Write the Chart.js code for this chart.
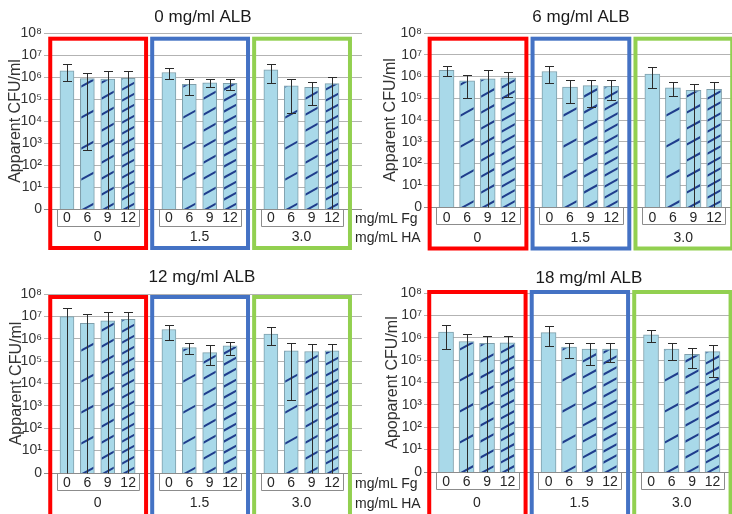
<!DOCTYPE html>
<html>
<head>
<meta charset="utf-8">
<script src="https://cdn.jsdelivr.net/npm/chart.js@4.4.1/dist/chart.umd.min.js"></script>
<style>
    body { margin: 0; background: #fff; }
    #wrap { position: relative; width: 732px; height: 514px; overflow: hidden; font-family: "Liberation Sans", Arial, sans-serif; }
    .panel { position: absolute; width: 366px; height: 257px; }
    .side { position: absolute; font-size: 14px; color: #262626; transform: translateY(-50%); white-space: nowrap; }
</style>
</head>
<body>
<div id="wrap">
    <div class="panel" style="left:0;top:0"><canvas id="c0" width="366" height="257"></canvas></div>
    <div class="panel" style="left:366px;top:0"><canvas id="c1" width="366" height="257"></canvas></div>
    <div class="panel" style="left:0;top:257px"><canvas id="c2" width="366" height="257"></canvas></div>
    <div class="panel" style="left:366px;top:257px"><canvas id="c3" width="366" height="257"></canvas></div>
    <div class="side" style="left:355px;top:218px">mg/mL Fg</div>
    <div class="side" style="left:355px;top:237px">mg/mL HA</div>
    <div class="side" style="left:355px;top:483px">mg/mL Fg</div>
    <div class="side" style="left:355px;top:503px">mg/mL HA</div>
</div>
<script>
// category labels
const fgLabels = ["0", "6", "9", "12"];          // mg/mL Fg
const haLabels = ["0", "1.5", "3.0"];            // mg/mL HA
const panelTitles = ["0 mg/ml ALB", "6 mg/ml ALB", "12 mg/ml ALB", "18 mg/ml ALB"];
const yTitles = ["Apparent CFU/ml", "Apparent CFU/ml", "Apparent CFU/ml", "Apoparent CFU/ml"];
const yTicks = [1, 1e1, 1e2, 1e3, 1e4, 1e5, 1e6, 1e7, 1e8];

// mean CFU/ml, upper and lower error bar ends (1 = bar runs to the axis)
const alb0Mean = [1.9e6, 8.5e5, 8.0e5, 8.7e5, 1.6e6, 4.7e5, 5.5e5, 5.2e5, 2.1e6, 4.0e5, 3.4e5, 5.0e5];
const alb0High = [3.8e6, 1.6e6, 1.9e6, 1.9e6, 2.5e6, 8.1e5, 8.1e5, 7.9e5, 3.9e6, 7.9e5, 6.2e5, 1.0e6];
const alb0Low  = [6.8e5, 5e2, 1, 1, 8.4e5, 1.6e5, 3.6e5, 2.6e5, 5.2e5, 2.4e4, 5.3e4, 1];

const alb6Mean = [1.9e6, 6.4e5, 7.9e5, 8.8e5, 1.7e6, 3.3e5, 3.8e5, 3.5e5, 1.3e6, 3.0e5, 2.3e5, 2.6e5];
const alb6High = [2.9e6, 1.2e6, 1.9e6, 1.6e6, 3.2e6, 7.1e5, 7.1e5, 7.1e5, 2.6e6, 5.4e5, 4.7e5, 5.8e5];
const alb6Low  = [1.1e6, 1.0e5, 1, 1.2e5, 5.0e5, 6.0e4, 4.0e4, 8.0e4, 3.0e5, 1.3e5, 1, 1];

const alb12Mean = [9.7e6, 4.9e6, 6.3e6, 7.4e6, 2.6e6, 4.0e5, 2.4e5, 4.8e5, 1.6e6, 2.9e5, 2.7e5, 2.9e5];
const alb12High = [2.3e7, 1.3e7, 1.5e7, 1.6e7, 4.1e6, 6.3e5, 5.0e5, 7.4e5, 3.2e6, 6.3e5, 5.7e5, 5.7e5];
const alb12Low  = [1, 1, 1, 1, 8.9e5, 2.0e5, 6.8e4, 1.9e5, 5.3e5, 1.9e3, 1, 1];

const alb18Mean = [1.8e6, 6.8e5, 5.7e5, 6.0e5, 1.7e6, 3.8e5, 3.1e5, 3.1e5, 1.35e6, 3.1e5, 1.8e5, 2.4e5];
const alb18High = [3.8e6, 1.5e6, 1.2e6, 1.2e6, 3.2e6, 5.7e5, 5.7e5, 5.7e5, 2.2e6, 5.7e5, 3.4e5, 4.8e5];
const alb18Low  = [3.2e5, 1, 1, 1, 4.1e5, 1.2e5, 6.0e4, 8.5e4, 6.3e5, 1.0e5, 4.3e4, 1.7e4];

const FONT = '"Liberation Sans", Arial, sans-serif';
const boxColors = ["#ff0000", "#4472c4", "#92d050"];
const hatchGap = [0, 31, 16, 11];   // hatch spacing per Fg level, px
const SUP = { 0: "\u2070", 1: "\u00b9", 2: "\u00b2", 3: "\u00b3", 4: "\u2074", 5: "\u2075", 6: "\u2076", 7: "\u2077", 8: "\u2078" };

// layout for each panel (pixels inside its own canvas)
const panels = [
    { id: "c0", mean: alb0Mean, high: alb0High, low: alb0Low,
      padTop: 33, padBottom: 48, padRight: 4, axisW: 48, xMin: -0.93, xMax: 14.47, barW: 14,
      titleX: 203, titleY: 17, fgY: 218, haY: 237, boxTop: 38.7, boxBot: 248, yTitlePad: 6.4 },
    { id: "c1", mean: alb6Mean, high: alb6High, low: alb6Low,
      padTop: 33, padBottom: 50, padRight: 0, axisW: 62, xMin: -0.9, xMax: 13.87, barW: 15,
      titleX: 215, titleY: 17, fgY: 218, haY: 238, boxTop: 38.7, boxBot: 248.5, yTitlePad: 15.4 },
    { id: "c2", mean: alb12Mean, high: alb12High, low: alb12Low,
      padTop: 37, padBottom: 41, padRight: 4, axisW: 48, xMin: -0.93, xMax: 14.47, barW: 14,
      titleX: 202, titleY: 20, fgY: 226, haY: 246, boxTop: 40, boxBot: 262, yTitlePad: 7.4 },
    { id: "c3", mean: alb18Mean, high: alb18High, low: alb18Low,
      padTop: 36, padBottom: 42, padRight: 0, axisW: 62, xMin: -0.88, xMax: 13.95, barW: 15,
      titleX: 223, titleY: 21, fgY: 225, haY: 246, boxTop: 35, boxBot: 262, yTitlePad: 17.4 }
];

// slot on the x axis: groups of four bars with one empty slot between groups
function slot(k) {
    return Math.floor(k / fgLabels.length) * (fgLabels.length + 1) + (k % fgLabels.length);
}

function tickLabel(v) {
    const e = Math.round(Math.log10(v));
    return e === 0 ? "0" : "10" + SUP[e];
}

function overlay(p, title) {
    return {
        id: "overlay",
        afterDatasetsDraw(chart) {
            const ctx = chart.ctx;
            const xs = chart.scales.x, ys = chart.scales.y, area = chart.chartArea;
            const bars = chart.getDatasetMeta(0).data;

            // hatching on the Fg bars
            bars.forEach((bar, k) => {
                const gap = hatchGap[k % fgLabels.length];
                if (!gap) return;
                const left = bar.x - bar.width / 2, w = bar.width;
                ctx.save();
                ctx.beginPath();
                ctx.rect(left + 1, bar.y + 1, w - 2, bar.base - bar.y - 1);
                ctx.clip();
                ctx.strokeStyle = "#1f3d8c";
                ctx.lineWidth = 2;
                for (let yy = bar.base + 2; yy > bar.y - w; yy -= gap) {
                    ctx.beginPath();
                    ctx.moveTo(left, yy);
                    ctx.lineTo(left + w, yy - w * 0.55);
                    ctx.stroke();
                }
                ctx.restore();
            });

            // error bars
            ctx.save();
            ctx.strokeStyle = "#2b2b2b";
            ctx.lineWidth = 1;
            bars.forEach((bar, k) => {
                const x = Math.round(bar.x) + 0.5;
                const hi = Math.round(ys.getPixelForValue(p.high[k])) + 0.5;
                const lo = Math.round(ys.getPixelForValue(Math.max(p.low[k], 1))) + 0.5;
                ctx.beginPath();
                ctx.moveTo(x, lo);
                ctx.lineTo(x, hi);
                ctx.moveTo(x - 4.5, hi);
                ctx.lineTo(x + 4.5, hi);
                if (p.low[k] > 1) {
                    ctx.moveTo(x - 4.5, lo);
                    ctx.lineTo(x + 4.5, lo);
                }
                ctx.stroke();
            });
            ctx.restore();

            // group boxes, Fg brackets and labels
            ctx.save();
            haLabels.forEach((ha, g) => {
                const s0 = g * (fgLabels.length + 1);
                const bx0 = xs.getPixelForValue(s0 - 0.82), bx1 = xs.getPixelForValue(s0 + 3.88);
                ctx.strokeStyle = boxColors[g];
                ctx.lineWidth = 4;
                ctx.strokeRect(bx0, p.boxTop, bx1 - bx0, p.boxBot - p.boxTop);

                const l = Math.round(xs.getPixelForValue(s0 - 0.5)) + 0.5;
                const r = Math.round(xs.getPixelForValue(s0 + 3.55)) + 0.5;
                const b = Math.round(area.bottom + 17) + 0.5;
                ctx.strokeStyle = "#8c8c8c";
                ctx.lineWidth = 1;
                ctx.beginPath();
                ctx.moveTo(l, area.bottom);
                ctx.lineTo(l, b);
                ctx.lineTo(r, b);
                ctx.lineTo(r, area.bottom);
                ctx.stroke();

                ctx.fillStyle = "#262626";
                ctx.font = "14px " + FONT;
                ctx.textAlign = "center";
                ctx.textBaseline = "middle";
                fgLabels.forEach((fg, i) => {
                    ctx.fillText(fg, xs.getPixelForValue(s0 + i), p.fgY);
                });
                ctx.fillText(ha, xs.getPixelForValue(s0 + 1.5), p.haY);
            });

            ctx.fillStyle = "#1a1a1a";
            ctx.font = "17px " + FONT;
            ctx.fillText(title, p.titleX, p.titleY);
            ctx.restore();
        }
    };
}

document.addEventListener("DOMContentLoaded", function () {
    panels.forEach((p, n) => {
        const ctx = document.getElementById(p.id).getContext("2d");
        new Chart(ctx, {
            type: "bar",
            data: {
                datasets: [{
                    data: p.mean.map((v, k) => ({ x: slot(k), y: v })),
                    backgroundColor: "#a9d9e9",
                    borderColor: "#7f9fab",
                    borderWidth: 1,
                    barThickness: p.barW
                }]
            },
            options: {
                responsive: false,
                animation: false,
                layout: { padding: { top: p.padTop, bottom: p.padBottom, right: p.padRight, left: 0 } },
                plugins: { legend: { display: false }, tooltip: { enabled: false } },
                scales: {
                    x: { type: "linear", display: false, min: p.xMin, max: p.xMax, offset: false },
                    y: {
                        type: "logarithmic",
                        min: 1,
                        max: 1e8,
                        afterFit: s => { s.width = p.axisW; },
                        afterBuildTicks: s => { s.ticks = yTicks.map(v => ({ value: v })); },
                        border: { display: false },
                        grid: {
                            color: c => (c.tick && c.tick.value === 1 ? "#8c8c8c" : "#b3b3b3"),
                            tickLength: 4
                        },
                        ticks: {
                            autoSkip: false,
                            padding: 2,
                            color: "#333",
                            font: { size: 14, family: FONT },
                            callback: v => tickLabel(v)
                        },
                        title: {
                            display: true,
                            text: yTitles[n],
                            color: "#333",
                            font: { size: 16, family: FONT },
                            padding: { top: p.yTitlePad, bottom: 0 }
                        }
                    }
                }
            },
            plugins: [overlay(p, panelTitles[n])]
        });
    });
});
</script>
</body>
</html>
